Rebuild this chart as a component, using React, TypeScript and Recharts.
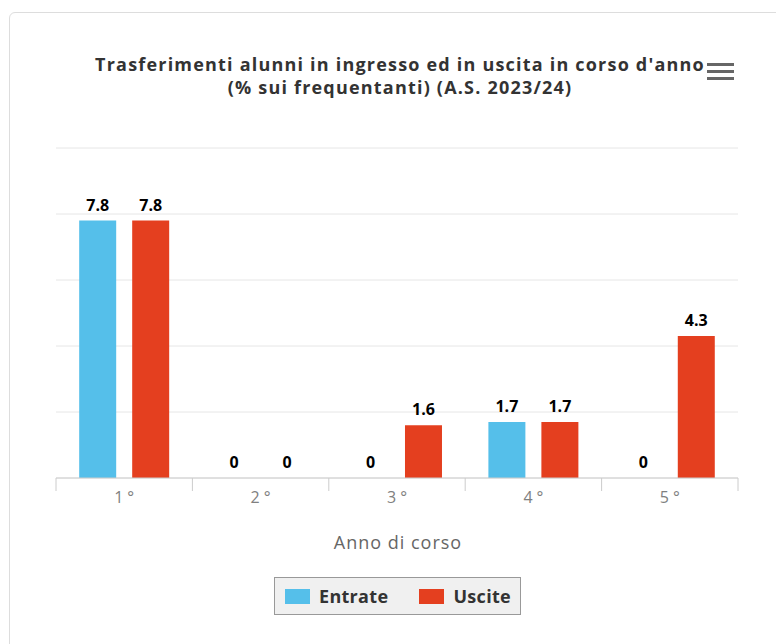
import { Bar, BarChart, CartesianGrid, LabelList, XAxis, YAxis } from "recharts";

const categories = ["1°", "2°", "3°", "4°", "5°"];
const entrate = [7.8, 0, 0, 1.7, 0];
const uscite = [7.8, 0, 1.6, 1.7, 4.3];
const yTicks = [0, 2, 4, 6, 8, 10];

const FONT = "'Open Sans', 'DejaVu Sans', sans-serif";
const BLUE = "#55bfea";
const RED = "#e43f1f";

const data = categories.map((name, i) => ({
  name,
  entrate: entrate[i],
  uscite: uscite[i],
}));

function CategoryTick(props: any) {
  const { x, y, payload, index } = props;
  const half = payload?.offset ?? 68;
  return (
    <g>
      <line x1={x - half} y1={y - 8} x2={x - half} y2={y + 5} stroke="#ccc" />
      {index === categories.length - 1 && (
        <line x1={x + half} y1={y - 8} x2={x + half} y2={y + 5} stroke="#ccc" />
      )}
      <text
        x={x + 2}
        y={y + 17}
        textAnchor="middle"
        fill="#808080"
        fontSize={16}
        letterSpacing={4}
        fontFamily={FONT}
      >
        {payload.value}
      </text>
    </g>
  );
}

function LegendBox() {
  const items = [
    { label: "Entrate", color: BLUE },
    { label: "Uscite", color: RED },
  ];
  return (
    <div
      style={{
        position: "absolute",
        left: 274,
        top: 577,
        width: 226,
        height: 36,
        boxSizing: "content-box",
        display: "flex",
        alignItems: "center",
        justifyContent: "space-between",
        padding: "0 9px 0 10px",
        background: "#f0f0f0",
        border: "1px solid #999",
        fontFamily: FONT,
        fontWeight: 700,
        fontSize: 18,
        letterSpacing: 0.3,
        color: "#333",
      }}
    >
      {items.map((it) => (
        <span key={it.label} style={{ display: "inline-flex", alignItems: "center", gap: 9 }}>
          <span style={{ width: 25, height: 15, background: it.color, display: "inline-block" }} />
          {it.label}
        </span>
      ))}
    </div>
  );
}

const titleLine = {
  position: "absolute" as const,
  left: 0,
  width: 800,
  textAlign: "center" as const,
  fontFamily: FONT,
  fontWeight: 700,
  fontSize: 18,
  letterSpacing: 1.2,
  lineHeight: "20px",
  color: "#333",
};

export default function App() {
  return (
    <div
      style={{
        position: "absolute",
        left: 0,
        top: 0,
        width: 776,
        height: 644,
        overflow: "hidden",
        background: "#fff",
      }}
    >
      <div
        style={{
          position: "absolute",
          left: 9,
          top: 12,
          width: 820,
          height: 700,
          border: "1px solid #ddd",
          borderRadius: 6,
        }}
      />
      <div style={{ ...titleLine, top: 54 }}>
        Trasferimenti alunni in ingresso ed in uscita in corso d'anno
      </div>
      <div style={{ ...titleLine, top: 77 }}>(% sui frequentanti) (A.S. 2023/24)</div>
      <svg style={{ position: "absolute", left: 707, top: 63 }} width={28} height={20}>
        <rect x={0} y={0} width={27} height={3} fill="#666" />
        <rect x={0} y={7} width={27} height={3} fill="#666" />
        <rect x={0} y={14} width={27} height={3} fill="#666" />
      </svg>
      <div style={{ position: "absolute", left: 0, top: 0 }}>
        <BarChart
          width={776}
          height={644}
          data={data}
          margin={{ top: 148, right: 38, left: 56, bottom: 136 }}
          barGap={16}
          barCategoryGap="17%"
        >
          <CartesianGrid vertical={false} stroke="#e6e6e6" />
          <YAxis hide domain={[0, 10]} ticks={yTicks} />
          <XAxis
            dataKey="name"
            height={30}
            axisLine={{ stroke: "#ccc" }}
            tickLine={false}
            tick={<CategoryTick />}
            interval={0}
          />
          <Bar dataKey="entrate" name="Entrate" fill={BLUE} minPointSize={0.1} isAnimationActive={false}>
            <LabelList
              dataKey="entrate"
              position="top"
              offset={10}
              fill="#000"
              fontSize={16}
              fontWeight={700}
              fontFamily={FONT}
              formatter={(v: any) => String(v)}
            />
          </Bar>
          <Bar dataKey="uscite" name="Uscite" fill={RED} minPointSize={0.1} isAnimationActive={false}>
            <LabelList
              dataKey="uscite"
              position="top"
              offset={10}
              fill="#000"
              fontSize={16}
              fontWeight={700}
              fontFamily={FONT}
              formatter={(v: any) => String(v)}
            />
          </Bar>
        </BarChart>
      </div>
      <div
        style={{
          position: "absolute",
          left: 0,
          top: 530,
          width: 796,
          textAlign: "center",
          fontFamily: FONT,
          fontSize: 18,
          letterSpacing: 1,
          color: "#666",
        }}
      >
        Anno di corso
      </div>
      <LegendBox />
    </div>
  );
}
